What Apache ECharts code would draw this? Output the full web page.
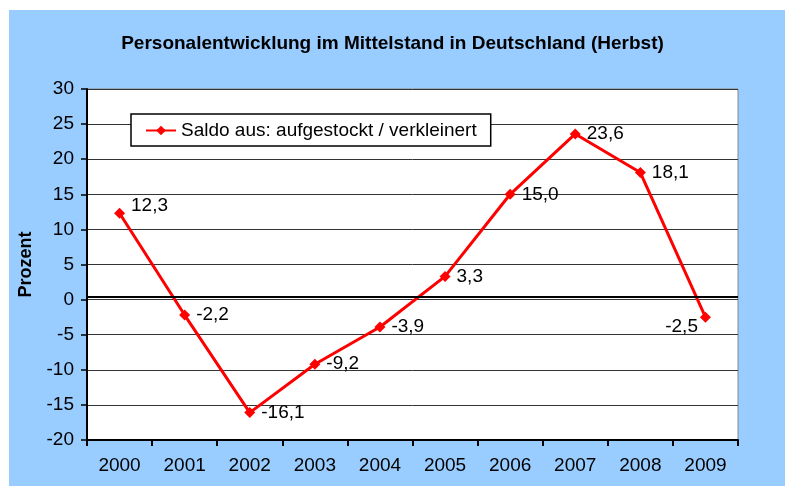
<!DOCTYPE html>
<html>
<head>
<meta charset="utf-8">
<script src="https://cdn.jsdelivr.net/npm/echarts@6/dist/echarts.min.js"></script>
<style>
  html, body { margin: 0; padding: 0; background: #fff; }
  #chart { width: 785px; height: 486px; }
</style>
</head>
<body>
<div id="chart"></div>
<script>
// Jahre und Saldo (Prozent)
const years = ['2000', '2001', '2002', '2003', '2004', '2005', '2006', '2007', '2008', '2009'];
const saldo = [12.3, -2.2, -16.1, -9.2, -3.9, 3.3, 15.0, 23.6, 18.1, -2.5];
const seriesName = 'Saldo aus: aufgestockt / verkleinert';

const font = '"Liberation Sans", Arial, sans-serif';

const chart = echarts.init(document.getElementById('chart'));

const data = saldo.map((v, i) => {
    const item = { value: v };
    if (i === 0) {
        item.label = { offset: [0, -7] };
    }
    if (i === saldo.length - 1) {
        item.label = { position: 'left', offset: [4, 10] };
    }
    return item;
});

const options = {
    animation: false,
    graphic: [{
        type: 'rect',
        z: -10,
        shape: { x: 9, y: 10, width: 776, height: 476 },
        style: { fill: '#99CCFF' },
        silent: true,
    }],
    title: {
        text: 'Personalentwicklung im Mittelstand in Deutschland (Herbst)',
        left: 'center',
        top: 29,
        textStyle: { fontFamily: font, fontSize: 19, fontWeight: 'bold', color: '#000' },
    },
    grid: {
        left: 87,
        right: 47,
        top: 89,
        bottom: 46,
        show: true,
        backgroundColor: '#fff',
        borderColor: '#888',
        borderWidth: 1,
    },
    legend: {
        left: 131,
        top: 114,
        padding: [7, 14, 6, 14],
        backgroundColor: '#fff',
        borderColor: '#000',
        borderWidth: 1.5,
        itemWidth: 30,
        itemHeight: 12,
        itemGap: 6,
        textStyle: { fontFamily: font, fontSize: 19, color: '#000' },
        data: [seriesName],
    },
    xAxis: {
        type: 'category',
        data: years,
        boundaryGap: true,
        axisLine: { onZero: false, lineStyle: { color: '#000', width: 2 } },
        axisTick: { show: true, length: 6, lineStyle: { color: '#000', width: 2 } },
        axisLabel: { margin: 16, fontFamily: font, fontSize: 19, color: '#000' },
        splitLine: { show: false },
    },
    yAxis: {
        type: 'value',
        min: -20,
        max: 30,
        interval: 5,
        name: 'Prozent',
        nameLocation: 'middle',
        nameGap: 52,
        nameTextStyle: { fontFamily: font, fontSize: 18, fontWeight: 'bold', color: '#000' },
        axisLine: { show: true, lineStyle: { color: '#000', width: 2 } },
        axisTick: { show: true, length: 6, lineStyle: { color: '#000', width: 1.5 } },
        axisLabel: { margin: 13, fontFamily: font, fontSize: 19, color: '#000' },
        splitLine: { show: true, lineStyle: { color: '#333', width: 1 } },
    },
    series: [{
        name: seriesName,
        type: 'line',
        data: data,
        symbol: 'diamond',
        symbolSize: 11,
        lineStyle: { color: '#FF0000', width: 3 },
        itemStyle: { color: '#FF0000' },
        label: {
            show: true,
            position: 'right',
            distance: 6,
            fontFamily: font,
            fontSize: 19,
            color: '#000',
            formatter: (p) => p.value.toFixed(1).replace('.', ','),
        },
        markLine: {
            silent: true,
            symbol: 'none',
            label: { show: false },
            lineStyle: { color: '#000', width: 2, type: 'solid' },
            data: [{ yAxis: 0.4 }],
        },
    }],
};

chart.setOption(options);
</script>
</body>
</html>
